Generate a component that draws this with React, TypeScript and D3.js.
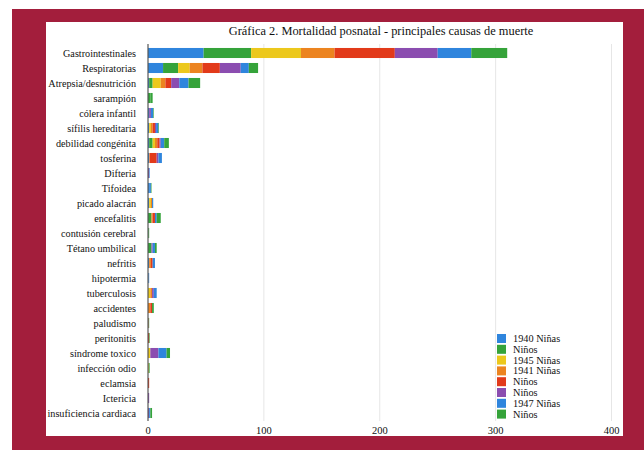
import React from "react";
import * as d3 from "d3";

const categories = [
  "Gastrointestinales", "Respiratorias", "Atrepsia/desnutrición", "sarampión", "cólera infantil",
  "sífilis hereditaria", "debilidad congénita", "tosferina", "Difteria", "Tifoidea",
  "picado alacrán", "encefalitis", "contusión cerebral", "Tétano umbilical", "nefritis",
  "hipotermia", "tuberculosis", "accidentes", "paludismo", "peritonitis",
  "síndrome toxico", "infección odio", "eclamsia", "Ictericia", "insuficiencia cardiaca",
];

const seriesNames = ["1940 Niñas", "Niños", "1945 Niñas", "1941 Niñas", "Niños", "Niños", "1947 Niñas", "Niños"];
const seriesColors = ["#2f85dd", "#35a33a", "#ecc81c", "#ec8420", "#e23a1a", "#8b4db0", "#2f85dd", "#35a33a"];

const s1940Ninas = [48, 13, 1, 0, 1, 1, 1, 1, 0, 1, 1, 0, 0, 0, 1, 0.5, 0, 0, 0, 0, 0, 0, 0, 0, 0];
const s1940Ninos = [41, 13, 3, 2, 0, 0, 3, 0, 0, 0, 0, 3, 0.5, 3, 0, 0, 0, 0, 0, 0, 0, 0, 0, 0, 0];
const s1945Ninas = [43, 10, 7, 0, 0, 1.5, 2, 0, 0, 0, 1.5, 0, 0, 0, 0, 0, 2, 0, 0, 0, 2, 0.7, 0, 0, 0];
const s1941Ninas = [29, 11, 4, 0, 0, 1.5, 2, 0.5, 0, 0, 1, 1, 0, 0, 1.5, 0, 1.5, 2, 0, 0, 0, 0, 0, 0, 0];
const s1941Ninos = [52, 15, 5, 0, 0, 2, 2, 6, 0, 0, 0, 2, 0, 0, 1.5, 0, 0, 1.5, 0.5, 1, 0, 0, 1, 0, 0];
const sExtraNinos = [37, 18, 7, 0, 1.5, 1, 1, 1.5, 1, 0, 0, 0, 0, 1, 0, 0, 1.5, 0, 0, 0, 7, 0, 0, 1, 1];
const s1947Ninas = [29, 7, 8, 0, 2, 2, 3, 3, 0.5, 1.5, 1, 1.5, 0, 2, 2, 0.5, 2.5, 0, 0, 0, 7, 0, 0, 0, 1];
const s1947Ninos = [31, 8, 10, 2, 0.5, 0.5, 4, 0, 0, 0.5, 0, 3.5, 0.5, 1.5, 0, 0, 0, 1.5, 0.5, 0.5, 3, 0.7, 0, 0, 1.5];

const seriesValues = [s1940Ninas, s1940Ninos, s1945Ninas, s1941Ninas, s1941Ninos, sExtraNinos, s1947Ninas, s1947Ninos];
const xTicks = [0, 100, 200, 300, 400];

export default function App() {
  const W = 644, H = 450;
  const x = d3.scaleLinear().domain([0, 400]).range([148, 611.5]);
  const y = d3.scaleBand<string>().domain(categories).range([45.5, 420.5]).paddingInner(0.33).paddingOuter(0.165);
  const keys = seriesValues.map((_, i) => "s" + i);
  const table = categories.map((c, ci) => {
    const row: any = { cat: c };
    seriesValues.forEach((arr, si) => (row["s" + si] = arr[ci]));
    return row;
  });
  const stacked = d3.stack().keys(keys)(table);
  const font = "'Liberation Serif', 'Times New Roman', serif";

  return (
    <svg width={W} height={H} style={{ position: "absolute", left: 0, top: 0 }} fontFamily={font}>
      <rect x={0} y={0} width={W} height={H} fill="#fff" />
      <rect x={12} y={9} width={632} height={441} fill="#a31e3c" />
      <rect x={46} y={22} width={577} height={414} fill="#fff" />
      <text x={381} y={34.5} textAnchor="middle" fontSize={12.4} fill="#111">
        Gráfica 2. Mortalidad posnatal - principales causas de muerte
      </text>
      {xTicks.filter((t) => t > 0).map((t) => (
        <line key={t} x1={x(t)} x2={x(t)} y1={44} y2={421} stroke="#e6e6e6" strokeWidth={1} />
      ))}
      {stacked.map((layer, si) => (
        <g key={si} fill={seriesColors[si]}>
          {layer.map((d, ci) => {
            const w = x(d[1]) - x(d[0]);
            if (w <= 0) return null;
            return <rect key={ci} x={x(d[0])} y={y(categories[ci])} width={w} height={y.bandwidth()} />;
          })}
        </g>
      ))}
      <line x1={148} x2={148} y1={44} y2={421} stroke="#555" strokeWidth={1.2} />
      {categories.map((c) => (
        <text key={c} x={136} y={(y(c) as number) + y.bandwidth() / 2 + 3.6} textAnchor="end" fontSize={10.2} fill="#111">
          {c}
        </text>
      ))}
      {xTicks.map((t) => (
        <text key={t} x={x(t)} y={434} textAnchor="middle" fontSize={10.5} fill="#111">
          {t}
        </text>
      ))}
      {seriesNames.map((n, i) => (
        <g key={i} transform={`translate(497, ${334 + i * 10.8})`}>
          <rect x={0} y={0} width={9} height={9} fill={seriesColors[i]} />
          <text x={16} y={8} fontSize={10.3} fill="#111">{n}</text>
        </g>
      ))}
    </svg>
  );
}
